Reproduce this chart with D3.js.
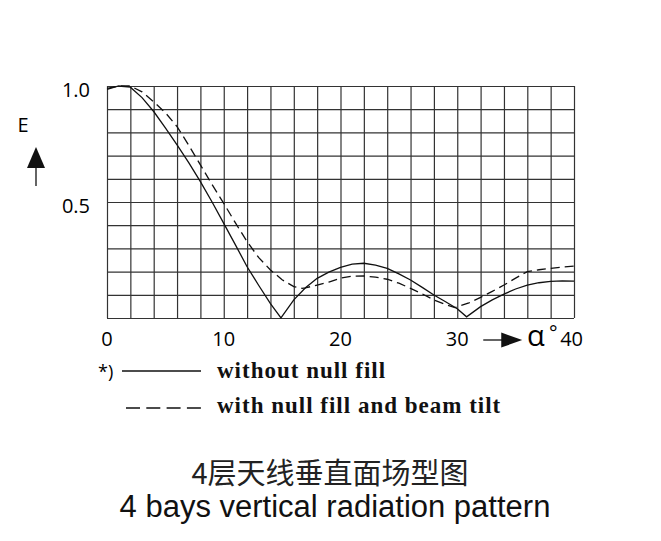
<!DOCTYPE html>
<html>
<head>
<meta charset="utf-8">
<script src="https://cdn.jsdelivr.net/npm/d3@7"></script>
<style>
  body { margin: 0; background: #fff; }
  #chart { width: 661px; height: 541px; }
</style>
</head>
<body>
<div id="chart"></div>
<script>
// angle (deg) / relative field strength
const anglesSolid = [0, 1, 2, 3, 4, 5, 6, 7, 8, 9, 10, 11, 12, 13, 14, 14.9, 16, 17, 18, 19, 20,
  21, 22, 23, 24, 25, 26, 27, 28, 29, 30, 30.8, 32, 33, 34, 35, 36, 37, 38, 39, 40];
const valuesSolid = [0.985, 1.0, 0.995, 0.95, 0.89, 0.82, 0.746, 0.67, 0.588, 0.50, 0.408, 0.315, 0.221, 0.14, 0.062, 0.0,
  0.078, 0.13, 0.171, 0.198, 0.218, 0.232, 0.236, 0.228, 0.214, 0.19, 0.164, 0.132, 0.099, 0.07, 0.04, 0.005,
  0.049, 0.078, 0.103, 0.125, 0.142, 0.152, 0.158, 0.16, 0.159];

const anglesDashed = [0, 1, 2, 3, 4, 5, 6, 7, 8, 9, 10, 11, 12, 13, 14, 15, 16, 16.7, 17, 18, 19, 20,
  21, 22, 23, 24, 25, 26, 27, 28, 29, 29.8, 31, 32, 33, 34, 35, 36, 37, 38, 39, 40];
const valuesDashed = [0.99, 1.0, 1.0, 0.975, 0.932, 0.885, 0.825, 0.745, 0.66, 0.575, 0.494, 0.41, 0.329, 0.26, 0.207,
  0.165, 0.135, 0.128, 0.13, 0.142, 0.155, 0.172, 0.18, 0.181, 0.176, 0.167, 0.15, 0.128, 0.104, 0.078, 0.058,
  0.045, 0.065, 0.089, 0.115, 0.142, 0.172, 0.2, 0.208, 0.214, 0.219, 0.224];

const xTickLabels = [0, 10, 20, 30];
const yTickLabels = [0.5, 1.0];
const legendLabels = ["without null fill", "with null fill and beam tilt"];
const titleCn = "4层天线垂直面场型图";
const titleEn = "4 bays vertical radiation pattern";

class PatternVis {
  constructor(parentElement) {
    this.parentElement = parentElement;
    this.initVis();
  }

  initVis() {
    let vis = this;
    vis.margin = { top: 86, right: 87, bottom: 223, left: 107 };
    vis.width = 661 - vis.margin.left - vis.margin.right;
    vis.height = 541 - vis.margin.top - vis.margin.bottom;

    vis.root = d3.select(`#${vis.parentElement}`)
      .append("svg")
      .attr("width", 661)
      .attr("height", 541);

    vis.svg = vis.root.append("g")
      .attr("transform", `translate(${vis.margin.left},${vis.margin.top})`);

    vis.xScale = d3.scaleLinear().domain([0, 40]).range([0, vis.width]);
    vis.yScale = d3.scaleLinear().domain([0, 1]).range([vis.height, 0]);

    vis.updateVis();
  }

  updateVis() {
    let vis = this;
    const tickFont = "'Open Sans', sans-serif";

    // grid
    vis.svg.append("g").attr("class", "grid-x")
      .call(d3.axisBottom(vis.xScale).tickValues(d3.range(0, 41, 2)).tickSize(-vis.height).tickFormat(""))
      .attr("transform", `translate(0,${vis.height})`);
    vis.svg.append("g").attr("class", "grid-y")
      .call(d3.axisLeft(vis.yScale).tickValues(d3.range(0, 1.01, 0.1)).tickSize(-vis.width).tickFormat(""));
    vis.svg.selectAll(".grid-x .domain, .grid-y .domain").remove();
    vis.svg.selectAll(".grid-x line, .grid-y line")
      .attr("stroke", "#333")
      .attr("stroke-width", 1.2);

    // tick labels
    vis.svg.selectAll(".x-label").data(xTickLabels).enter()
      .append("text")
      .attr("class", "x-label")
      .attr("x", d => vis.xScale(d))
      .attr("y", vis.height + 28)
      .attr("text-anchor", "middle")
      .attr("font-family", tickFont)
      .attr("font-size", "20px")
      .attr("fill", "#000")
      .text(d => d);

    vis.svg.selectAll(".y-label").data(yTickLabels).enter()
      .append("text")
      .attr("class", "y-label")
      .attr("x", -17)
      .attr("y", d => vis.yScale(d) + 10.5)
      .attr("text-anchor", "end")
      .attr("font-family", tickFont)
      .attr("font-size", "20px")
      .attr("fill", "#000")
      .text(d => d3.format(".1f")(d));

    // x axis arrow + alpha
    const x30 = vis.xScale(30);
    const ay = vis.height + 22;
    vis.svg.append("line")
      .attr("x1", x30 + 26).attr("x2", x30 + 46)
      .attr("y1", ay).attr("y2", ay)
      .attr("stroke", "#111").attr("stroke-width", 1.3);
    vis.svg.append("path")
      .attr("d", `M${x30 + 44},${ay - 7.5}L${x30 + 65},${ay}L${x30 + 44},${ay + 7.5}Z`)
      .attr("fill", "#111");

    const x40 = vis.xScale(40);
    vis.svg.append("text")
      .attr("x", x40 + 9)
      .attr("y", vis.height + 28)
      .attr("text-anchor", "end")
      .attr("font-family", tickFont)
      .attr("font-size", "20px")
      .attr("fill", "#000")
      .text("40");
    vis.svg.append("text")
      .attr("x", x40 - 47)
      .attr("y", vis.height + 28)
      .attr("font-family", tickFont)
      .attr("font-size", "29px")
      .attr("fill", "#000")
      .text("α");
    vis.svg.append("text")
      .attr("x", x40 - 25)
      .attr("y", vis.height + 22)
      .attr("font-family", tickFont)
      .attr("font-size", "20px")
      .attr("fill", "#000")
      .text("°");

    // y axis "E" with arrow
    vis.root.append("text")
      .attr("x", 23)
      .attr("y", 132)
      .attr("text-anchor", "middle")
      .attr("font-family", tickFont)
      .attr("font-size", "20px")
      .attr("fill", "#000")
      .text("E");
    vis.root.append("path")
      .attr("d", "M36,147L45,168L27,168Z")
      .attr("fill", "#111");
    vis.root.append("line")
      .attr("x1", 36).attr("x2", 36)
      .attr("y1", 168).attr("y2", 186)
      .attr("stroke", "#111").attr("stroke-width", 1.3);

    // curves
    const line = d3.line()
      .x(d => vis.xScale(d[0]))
      .y(d => vis.yScale(d[1]))
      .curve(d3.curveLinear);

    vis.svg.append("path")
      .datum(d3.zip(anglesSolid, valuesSolid))
      .attr("d", line)
      .attr("fill", "none")
      .attr("stroke", "#111")
      .attr("stroke-width", 1.3);

    vis.svg.append("path")
      .datum(d3.zip(anglesDashed, valuesDashed))
      .attr("d", line)
      .attr("fill", "none")
      .attr("stroke", "#111")
      .attr("stroke-width", 1.3)
      .attr("stroke-dasharray", "9,5");

    // legend
    vis.root.append("text")
      .attr("x", 98).attr("y", 378)
      .attr("font-family", tickFont)
      .attr("font-size", "18px")
      .attr("fill", "#000")
      .text("*)");
    vis.root.append("line")
      .attr("x1", 122).attr("x2", 201).attr("y1", 371).attr("y2", 371)
      .attr("stroke", "#111").attr("stroke-width", 1.3);
    vis.root.append("line")
      .attr("x1", 126).attr("x2", 201).attr("y1", 408).attr("y2", 408)
      .attr("stroke", "#111").attr("stroke-width", 1.3)
      .attr("stroke-dasharray", "14,6.3");

    vis.root.selectAll(".legend-text").data(legendLabels).enter()
      .append("text")
      .attr("class", "legend-text")
      .attr("x", 217)
      .attr("y", (d, i) => 378 + i * 35)
      .attr("font-family", "'Liberation Serif', serif")
      .attr("font-weight", "bold")
      .attr("font-size", "23px")
      .attr("letter-spacing", "1px")
      .attr("fill", "#111")
      .text(d => d);

    // titles
    vis.root.append("text")
      .attr("x", 330).attr("y", 484)
      .attr("text-anchor", "middle")
      .attr("font-family", "'Noto Sans CJK SC', sans-serif")
      .attr("font-size", "29px")
      .attr("fill", "#222")
      .text(titleCn);
    vis.root.append("text")
      .attr("x", 335).attr("y", 517)
      .attr("text-anchor", "middle")
      .attr("font-family", "'Liberation Sans', Arial, sans-serif")
      .attr("font-size", "31px")
      .attr("fill", "#111")
      .text(titleEn);
  }
}

new PatternVis("chart");
</script>
</body>
</html>
